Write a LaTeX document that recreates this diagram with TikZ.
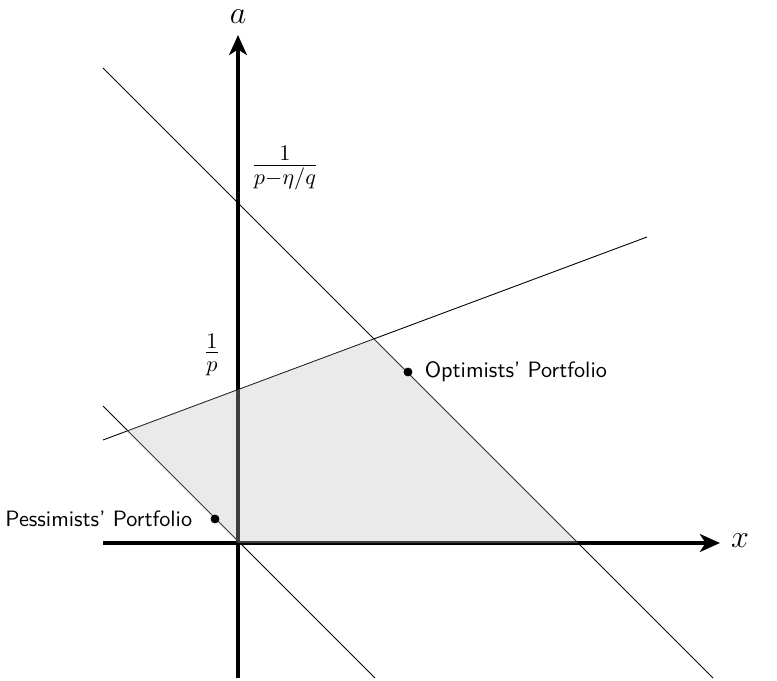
\documentclass[tikz,border=0pt]{standalone}
\usetikzlibrary{arrows.meta}
\begin{document}
\begin{tikzpicture}[x=0.45pt,y=-0.45pt,
  axis/.style={line width=1.6pt,-{Stealth[length=9pt,width=8pt,inset=2.5pt]}},
  thinline/.style={line width=0.4pt},
  region/.style={fill=lightgray,fill opacity=0.33},
  dotmark/.style={circle,fill=black,inner sep=0pt,minimum size=4pt},
  lbl/.style={font=\sffamily}]
\useasboundingbox (0,0) rectangle (777,681);
% key points
\coordinate (O) at (238,543);
\coordinate (xs) at (103,543);
\coordinate (xe) at (720,543);
\coordinate (ys) at (238,678);
\coordinate (ye) at (238,35);
\coordinate (l1a) at (103,68);
\coordinate (l1b) at (713,678);
\coordinate (l2a) at (103,440);
\coordinate (l2b) at (647,237);
\coordinate (l3a) at (103,406);
\coordinate (l3b) at (375,678);
\coordinate (A) at (126.3,431.2);
\coordinate (B) at (373.9,338.9);
\coordinate (C) at (578,543);
% axes
\draw[axis] (xs) -- (xe);
\draw[axis] (ys) -- (ye);
\node (xl) at (740,541) {\Large $x$};
\node[inner sep=0pt] (al) at (238,17) {\Large $a$};
% lines
\draw[thinline] (l1a) -- (l1b);
\draw[thinline] (l2a) -- (l2b);
\draw[thinline] (l3a) -- (l3b);
% region
\fill[region] (A) -- (B) -- (C) -- (O) -- cycle;
% labels
\node (f1) at (285,168) {\Large $\frac{1}{p-\eta/q}$};
\node (f2) at (212,355) {\Large $\frac{1}{p}$};
% portfolios
\node[dotmark] (opt) at (408,372) {};
\node[lbl,anchor=west] (optl) at (417,372) {Optimists' Portfolio};
\node[dotmark] (pes) at (215,519) {};
\node[lbl,anchor=east] (pesl) at (200,519) {Pessimists' Portfolio};
\end{tikzpicture}
\end{document}
